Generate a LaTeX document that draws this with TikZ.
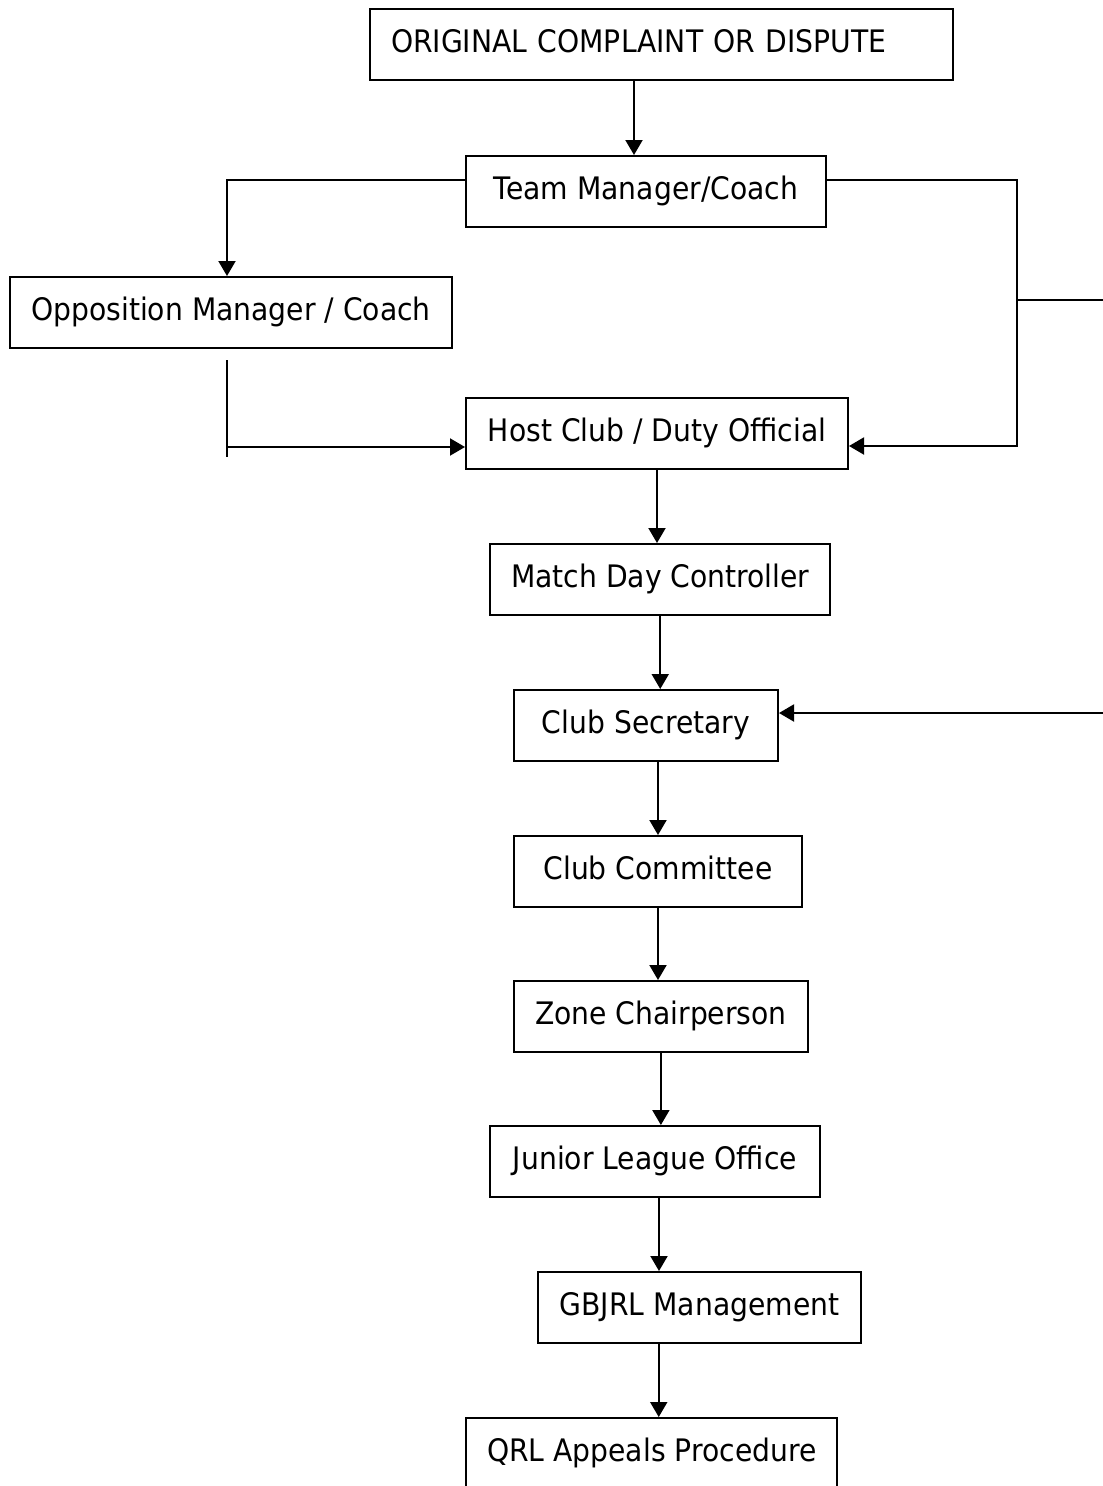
\documentclass[tikz,border=0pt]{standalone}
\usepackage{fontspec}
\setmainfont{DejaVu Sans}[FakeStretch=0.91]
\usetikzlibrary{arrows.meta}

\begin{document}
\begin{tikzpicture}
                        [x=1pt, y=-1pt,
                        box/.style = {draw, line width=2pt,
                                    anchor=north west,
                                    minimum width=#1,
                                    minimum height=71pt,
                                    inner xsep=21pt, inner ysep=0pt,
                                    font=\fontsize{31}{37}\selectfont,
                                    text height=23pt, text depth=7pt},
                        link/.style = {line width=2pt},
                        arrow/.style = {link, -{Triangle[length=15pt,width=17pt]}}]
                        \useasboundingbox (0,0) rectangle (1103,1486);
                        % Queja inicial
                        \node[box=583pt, text width=541pt, align=left] (orig) at (369,8) {ORIGINAL COMPLAINT OR DISPUTE};
                        % Entrenador del equipo
                        \node[box=360pt] (team) at (465,155) {Team Manager/Coach};
                        % Entrenador rival
                        \node[box=442pt] (opp) at (9,276) {Opposition Manager / Coach};
                        % Club anfitrion
                        \node[box=382pt] (host) at (465,397) {Host Club / Duty Official};
                        \node[box=338pt] (match) at (489,543) {Match Day Controller};
                        \node[box=264pt] (sec) at (513,689) {Club Secretary};
                        \node[box=288pt] (comm) at (513,835) {Club Committee};
                        \node[box=289pt] (zone) at (513,980) {Zone Chairperson};
                        \node[box=330pt] (junior) at (489,1125) {Junior League Office};
                        \node[box=323pt] (gbjrl) at (537,1271) {GBJRL Management};
                        % Apelacion (cortada abajo)
                        \node[box=370pt] (qrl) at (465,1417) {QRL Appeals Procedure};
                        % Puntos auxiliares
                        \coordinate (origout) at ([xshift=-27.5pt]orig.south);
                        \coordinate (teamleft) at ([yshift=11.5pt]team.west);
                        \coordinate (teamright) at ([yshift=11.5pt]team.east);
                        \coordinate (oppin) at ([xshift=-4pt]opp.north);
                        \coordinate (oppout) at ([xshift=-4pt]opp.south);
                        \coordinate (hostin) at ([yshift=-13.5pt]host.west);
                        \coordinate (hostback) at ([yshift=-12.5pt]host.east);
                        \coordinate (secin) at ([yshift=12.5pt]sec.east);
                        \coordinate (rbus) at (1017,0);
                        \coordinate (edge) at (1110,0);
                        % Conectores superiores
                        \draw[arrow] (origout) -- (origout |- team.north);
                        \draw[arrow] (teamleft) -| (oppin);
                        \draw[link] ([yshift=-11pt]oppout) -- ([yshift=-10pt]oppout |- hostin);
                        \draw[arrow] (oppout |- hostin) -- (hostin);
                        \draw[arrow] (teamright) -- (rbus |- teamright) -- (rbus |- hostback) -- (hostback);
                        \draw[link] (rbus |- 0,300) -- (edge |- 0,300);
                        \draw[arrow] (edge |- secin) -- (secin);
                        % Cadena vertical
                        \draw[arrow] (host.south) -- (host.south |- match.north);
                        \draw[arrow] (match.south) -- (match.south |- sec.north);
                        \draw[arrow] (comm.north |- sec.south) -- (comm.north);
                        \draw[arrow] (comm.south) -- (comm.south |- zone.north);
                        \draw[arrow] (zone.south) -- (zone.south |- junior.north);
                        \draw[arrow] ([xshift=4pt]junior.south) -- ([xshift=4pt]junior.south |- gbjrl.north);
                        \draw[arrow] ([xshift=7pt]qrl.north |- gbjrl.south) -- ([xshift=7pt]qrl.north);
                    \end{tikzpicture}
\end{document}
